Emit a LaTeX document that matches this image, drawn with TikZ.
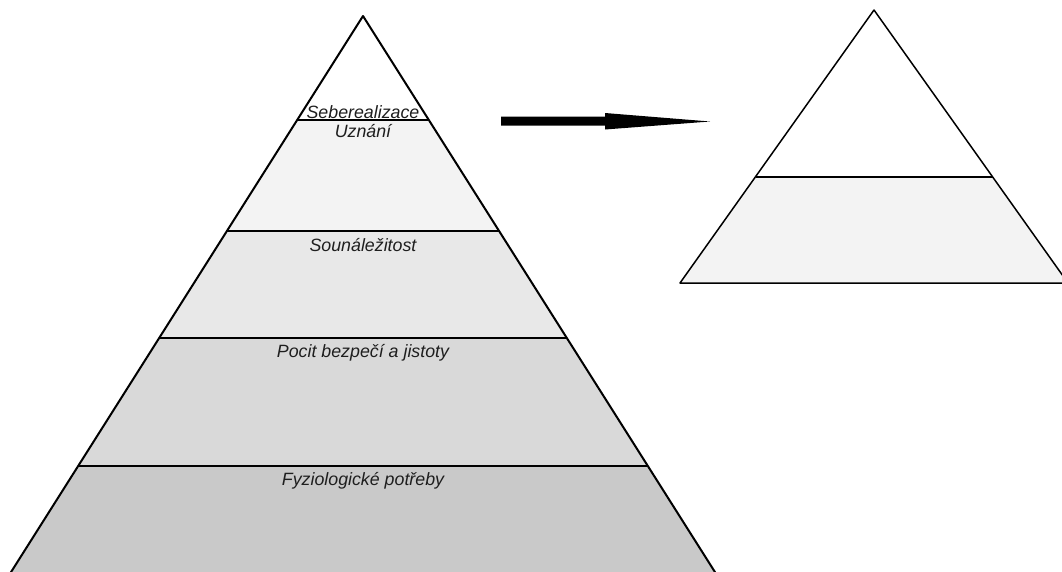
\documentclass[tikz,border=0pt]{standalone}
\usepackage{fontspec}
\setmainfont{Liberation Sans}
\definecolor{bandA}{HTML}{F3F3F3}
\definecolor{bandB}{HTML}{E8E8E8}
\definecolor{bandC}{HTML}{D9D9D9}
\definecolor{bandD}{HTML}{C9C9C9}
\definecolor{txt}{HTML}{1E1E1E}
\tikzset{
  level/.style={anchor=base, inner sep=0pt, text=txt, font=\fontsize{17.8}{20}\selectfont\itshape},
  edgeL/.style={line width=2pt, line join=round},
  edgeR/.style={line width=1.5pt, line join=round},
}
\begin{document}
\begin{tikzpicture}[x=1pt,y=-1pt]
\useasboundingbox (0,0) rectangle (1062,571);
\clip (0,0) rectangle (1062,571);
% left pyramid coordinates
\coordinate (apex) at (363,16);
\coordinate (l1) at (297.2,120); \coordinate (r1) at (428.8,120);
\coordinate (l2) at (226.9,231); \coordinate (r2) at (499.1,231);
\coordinate (l3) at (159.2,338); \coordinate (r3) at (566.8,338);
\coordinate (l4) at (78.1,466);  \coordinate (r4) at (647.9,466);
\coordinate (l5) at (6,580);     \coordinate (r5) at (720,580);
% bands
\fill[white] (apex) -- (r1) -- (l1) -- cycle;
\fill[bandA] (l1) -- (r1) -- (r2) -- (l2) -- cycle;
\fill[bandB] (l2) -- (r2) -- (r3) -- (l3) -- cycle;
\fill[bandC] (l3) -- (r3) -- (r4) -- (l4) -- cycle;
\fill[bandD] (l4) -- (r4) -- (r5) -- (l5) -- cycle;
% outline and dividers
\draw[edgeL] (l5) -- (apex) -- (r5);
\draw[edgeL] (l1) -- (r1);
\draw[edgeL] (l2) -- (r2);
\draw[edgeL] (l3) -- (r3);
\draw[edgeL] (l4) -- (r4);
% labels
\node[level] (t1) at (363,118) {Seberealizace};
\node[level] (t2) at (363,137) {Uznání};
\node[level] (t3) at (363,251) {Sounáležitost};
\node[level] (t4) at (363,357) {Pocit bezpečí a jistoty};
\node[level] (t5) at (363,485) {Fyziologické potřeby};
% arrow (shaft + long narrow head)
\coordinate (as) at (501,121);
\coordinate (ae) at (710,121.5);
\fill[black] (as) ++(0,-4.5) -- ++(104,0) -- ++(0,-3.5) -- (ae) -- (605,129.5) -- (605,125.5) -- (501,125.5) -- cycle;
% right pyramid
\coordinate (bapex) at (874,10);
\coordinate (bl1) at (755.5,177); \coordinate (br1) at (993,177);
\coordinate (bl2) at (680,283);   \coordinate (br2) at (1068,283);
\fill[white] (bapex) -- (br1) -- (bl1) -- cycle;
\fill[bandA] (bl1) -- (br1) -- (br2) -- (bl2) -- cycle;
\draw[edgeR] (bapex) -- (br2) -- (bl2) -- cycle;
\draw[edgeR] (bl1) -- (br1);
\end{tikzpicture}
\end{document}
